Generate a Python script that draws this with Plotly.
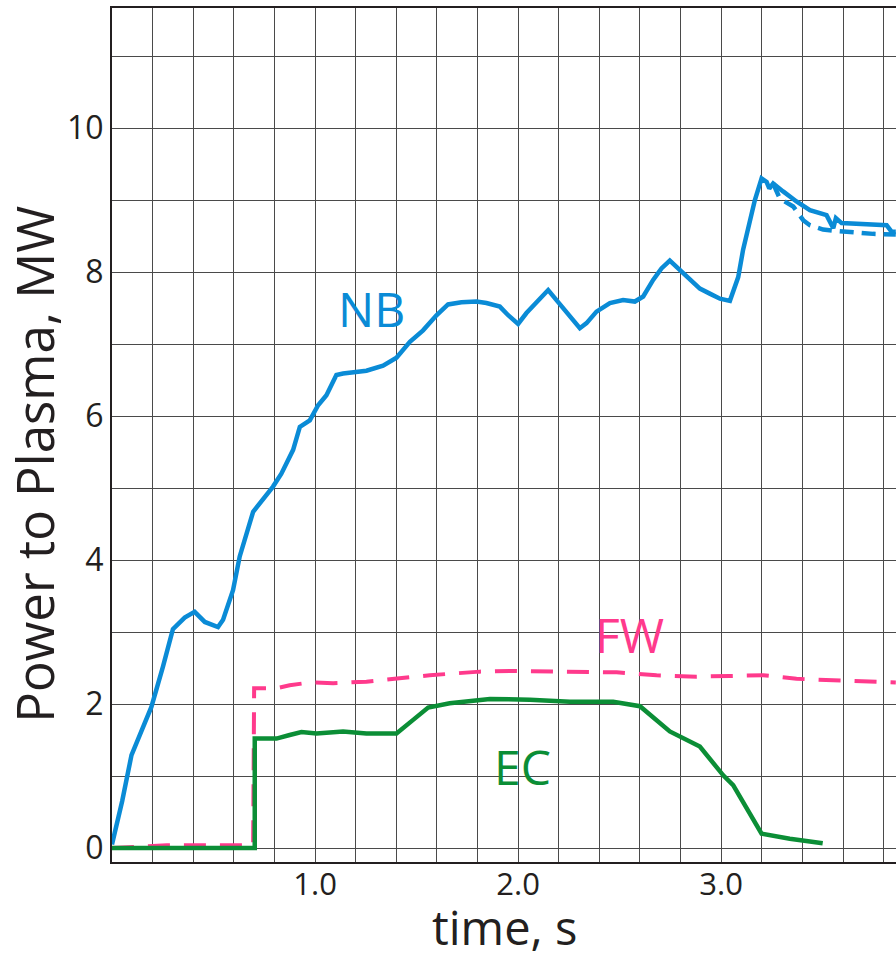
import plotly.graph_objects as go

# ---------------- data ----------------
nb_t = [0.0, 0.05, 0.096, 0.128, 0.194, 0.251, 0.30, 0.358, 0.407, 0.457, 0.522, 0.547, 0.596,
        0.629, 0.695, 0.793, 0.834, 0.892, 0.925, 0.974, 1.015, 1.056, 1.105, 1.138, 1.253,
        1.335, 1.401, 1.467, 1.532, 1.598, 1.655, 1.721, 1.795, 1.844, 1.910, 1.951, 2.0,
        2.041, 2.091, 2.148, 2.189, 2.255, 2.304, 2.337, 2.386, 2.452, 2.517, 2.575, 2.616,
        2.665, 2.706, 2.747, 2.797, 2.846, 2.895, 2.944, 2.994, 3.043, 3.084, 3.108, 3.133,
        3.166, 3.199, 3.224, 3.237, 3.256, 3.305, 3.371, 3.437, 3.519, 3.552, 3.565, 3.593,
        3.683, 3.815, 3.839, 3.86]
nb_p = [0.05, 0.65, 1.29, 1.50, 1.96, 2.52, 3.04, 3.20, 3.28, 3.14, 3.07, 3.17, 3.58,
        4.05, 4.67, 5.02, 5.20, 5.53, 5.85, 5.94, 6.15, 6.29, 6.57, 6.59, 6.63,
        6.70, 6.81, 7.03, 7.19, 7.40, 7.55, 7.58, 7.59, 7.57, 7.52, 7.40, 7.28,
        7.43, 7.57, 7.75, 7.61, 7.38, 7.22, 7.29, 7.45, 7.57, 7.61, 7.59, 7.66,
        7.89, 8.05, 8.16, 8.03, 7.91, 7.77, 7.70, 7.63, 7.60, 7.93, 8.31, 8.63,
        9.00, 9.30, 9.25, 9.16, 9.23, 9.12, 8.98, 8.86, 8.79, 8.61, 8.75, 8.68,
        8.67, 8.65, 8.56, 8.56]

nb_alt_t = [3.256, 3.289, 3.355, 3.404, 3.437, 3.502, 3.568, 3.650, 3.749, 3.86]
nb_alt_p = [9.23, 9.02, 8.91, 8.72, 8.65, 8.59, 8.57, 8.55, 8.53, 8.52]

fw_t = [0.0, 0.27, 0.695, 0.70, 0.81, 0.875, 0.974, 1.089, 1.253, 1.417, 1.565, 1.811,
        1.992, 2.222, 2.485, 2.682, 2.879, 3.043, 3.207, 3.371, 3.618, 3.86]
fw_p = [0.0, 0.04, 0.04, 2.22, 2.22, 2.26, 2.30, 2.29, 2.31, 2.36, 2.40, 2.45,
        2.46, 2.45, 2.44, 2.40, 2.38, 2.39, 2.40, 2.35, 2.32, 2.30]

ec_t = [0.0, 0.703, 0.703, 0.81, 0.875, 0.933, 1.007, 1.138, 1.253, 1.401, 1.483, 1.557,
        1.663, 1.861, 2.058, 2.255, 2.468, 2.60, 2.747, 2.895, 3.010, 3.059, 3.199, 3.338, 3.50]
ec_p = [0.0, 0.0, 1.52, 1.52, 1.57, 1.61, 1.59, 1.62, 1.59, 1.59, 1.78, 1.95,
        2.01, 2.07, 2.06, 2.03, 2.03, 1.97, 1.62, 1.41, 1.01, 0.875, 0.20, 0.13, 0.065]

x_tickvals = [1.0, 2.0, 3.0]
x_ticktext = ["1.0", "2.0", "3.0"]
y_tickvals = [0, 2, 4, 6, 8, 10]
y_ticktext = ["0", "2", "4", "6", "8", "10"]

labels = ["NB", "FW", "EC"]
label_t = [1.278, 2.550, 2.022]
label_p = [7.50, 2.96, 1.13]

# ---------------- styles ----------------
BLUE = "#0a8bd6"
PINK = "#ff3a8c"
GREEN = "#0b8e36"
FONT = "Open Sans"
GRID = "#4a4a4a"
INK = "#231f20"

fig = go.Figure()
fig.add_trace(go.Scatter(x=fw_t, y=fw_p, mode="lines",
                         line=dict(color=PINK, width=4, dash="22px,14px")))
fig.add_trace(go.Scatter(x=ec_t, y=ec_p, mode="lines",
                         line=dict(color=GREEN, width=4.5)))
fig.add_trace(go.Scatter(x=nb_alt_t, y=nb_alt_p, mode="lines",
                         line=dict(color=BLUE, width=4.5, dash="14px,8px")))
fig.add_trace(go.Scatter(x=nb_t, y=nb_p, mode="lines",
                         line=dict(color=BLUE, width=4.5)))

for txt, tx, ty, col in zip(labels, label_t, label_p, [BLUE, PINK, GREEN]):
    fig.add_annotation(x=tx, y=ty, xref="x", yref="y", text=txt, showarrow=False,
                       font=dict(family=FONT, size=48, color=col),
                       xanchor="center", yanchor="middle")

fig.add_annotation(x=-0.100, y=0.466, xref="paper", yref="paper",
                   text="Power to Plasma, MW", textangle=-90, showarrow=False,
                   font=dict(family=FONT, size=51, color=INK),
                   xanchor="center", yanchor="middle")
fig.add_annotation(x=0.500, y=-0.076, xref="paper", yref="paper",
                   text="time, s", showarrow=False,
                   font=dict(family=FONT, size=47, color=INK),
                   xanchor="center", yanchor="middle")

fig.update_layout(
    width=896, height=954,
    margin=dict(l=112, r=0, t=8, b=92),
    paper_bgcolor="white", plot_bgcolor="white",
    showlegend=False,
    font=dict(family=FONT, color=INK),
    xaxis=dict(range=[0, 3.861], tickvals=x_tickvals, ticktext=x_ticktext,
               showgrid=True, gridcolor=GRID, gridwidth=1,
               minor=dict(dtick=0.2, tick0=0, showgrid=True, gridcolor=GRID, gridwidth=1),
               showline=True, linecolor=INK, linewidth=2, mirror=True,
               ticks="", ticklabelstandoff=-6,
               tickfont=dict(family=FONT, size=31, color=INK),
               zeroline=False, fixedrange=True),
    yaxis=dict(range=[-0.194, 11.667], tickvals=y_tickvals, ticktext=y_ticktext,
               showgrid=True, gridcolor=GRID, gridwidth=1,
               minor=dict(dtick=1, tick0=0, showgrid=True, gridcolor=GRID, gridwidth=1),
               showline=True, linecolor=INK, linewidth=2,
               ticks="", tickfont=dict(family=FONT, size=32, color=INK),
               zeroline=False, fixedrange=True),
)

fig.write_html("out.html")
